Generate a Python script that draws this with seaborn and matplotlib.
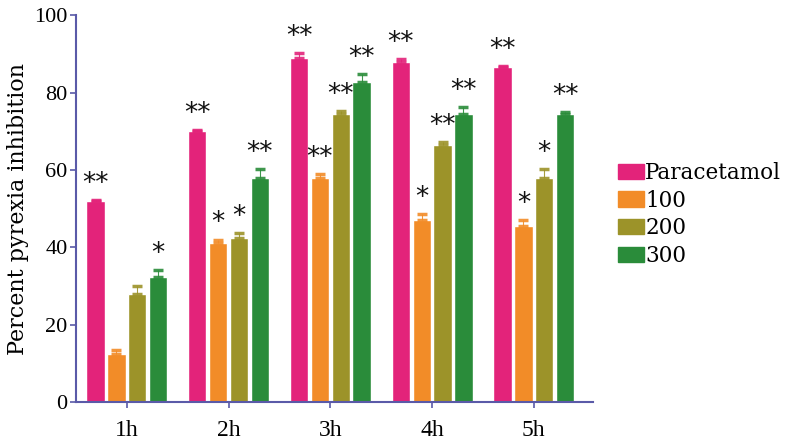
import matplotlib
matplotlib.use("Agg")
import matplotlib.pyplot as plt
import seaborn as sns
import pandas as pd
import numpy as np
from matplotlib.patches import Patch

times = ["1h", "2h", "3h", "4h", "5h"]
groups = ["Paracetamol", "100", "200", "300"]
paracetamol = [52, 70, 89, 88, 86.6]
dose100 = [12.5, 41, 58, 47, 45.5]
dose200 = [28, 42.3, 74.4, 66.5, 58]
dose300 = [32.3, 58, 82.7, 74.4, 74.4]
err_par = [0.3, 0.3, 1.3, 0.6, 0.3]
err_100 = [1.0, 1.0, 1.0, 1.5, 1.5]
err_200 = [2.0, 1.5, 0.8, 0.8, 2.2]
err_300 = [1.8, 2.2, 2.2, 1.8, 0.5]
stars_par = ["**", "**", "**", "**", "**"]
stars_100 = ["", "*", "**", "*", "*"]
stars_200 = ["", "*", "**", "**", "*"]
stars_300 = ["*", "**", "**", "**", "**"]
colors = ["#E3237A", "#F28C28", "#9C9329", "#2A8C3A"]

values = [paracetamol, dose100, dose200, dose300]
errs = [err_par, err_100, err_200, err_300]
stars = [stars_par, stars_100, stars_200, stars_300]

rows = []
for g, vals in zip(groups, values):
    for t, v in zip(times, vals):
        rows.append({"time": t, "group": g, "value": v})
df = pd.DataFrame(rows)

sns.set_style("white")
plt.rcParams["font.family"] = ["DejaVu Serif", "DejaVu Sans"]
plt.rcParams["text.color"] = "black"
plt.rcParams["axes.labelcolor"] = "black"
plt.rcParams["xtick.color"] = "black"
plt.rcParams["ytick.color"] = "black"

fig = plt.figure(figsize=(7.88, 4.42), dpi=100)
ax = fig.add_axes([0.0964, 0.0905, 0.656, 0.875])

sns.barplot(data=df, x="time", y="value", hue="group", order=times,
            hue_order=groups, palette=colors, width=0.82, gap=0.12,
            errorbar=None, ax=ax, saturation=1, legend=False)

for gi in range(len(groups)):
    for ti in range(len(times)):
        p = ax.patches[gi * len(times) + ti]
        xc = p.get_x() + p.get_width() / 2
        v = values[gi][ti]
        e = errs[gi][ti]
        ax.errorbar(xc, v, yerr=[[0], [e]], fmt="none", ecolor=colors[gi],
                    elinewidth=0.8, capsize=3.5, capthick=2.5, zorder=3,
                    alpha=0.9)
        s = stars[gi][ti]
        if s:
            ax.text(xc, v + e + 0.8, s, ha="center", va="bottom",
                    fontsize=19, color="#111111", family="DejaVu Sans")

axis_color = "#5A5AA8"
ax.set_ylim(0, 100)
ax.set_xlim(-0.5, 4.58)
ax.set_yticks([0, 20, 40, 60, 80, 100])
ax.set_yticklabels(["0", "20", "40", "60", "80", "100"],
                   family="Liberation Serif", fontsize=16)
ax.set_xticks(range(len(times)))
ax.set_xticklabels(times, family="Liberation Serif", fontsize=17)
ax.set_xlabel("")
ax.set_ylabel("Percent pyrexia inhibition", fontsize=16, labelpad=4)
for side in ["top", "right"]:
    ax.spines[side].set_visible(False)
for side in ["left", "bottom"]:
    ax.spines[side].set_color(axis_color)
    ax.spines[side].set_linewidth(1.5)
ax.tick_params(axis="both", which="both", length=4, width=1.2,
               color=axis_color, labelcolor="black", left=True, bottom=True)
ax.tick_params(axis="x", pad=9)
ax.tick_params(axis="y", pad=2)

handles = [Patch(facecolor=c, edgecolor=c) for c in colors]
fig.legend(handles, groups, loc="upper left", bbox_to_anchor=(0.771, 0.658),
           frameon=False, fontsize=15.5, handlelength=1.2, handleheight=0.7,
           handletextpad=0.05, labelspacing=0.26, borderpad=0)

fig.savefig("out.png", dpi=100)
